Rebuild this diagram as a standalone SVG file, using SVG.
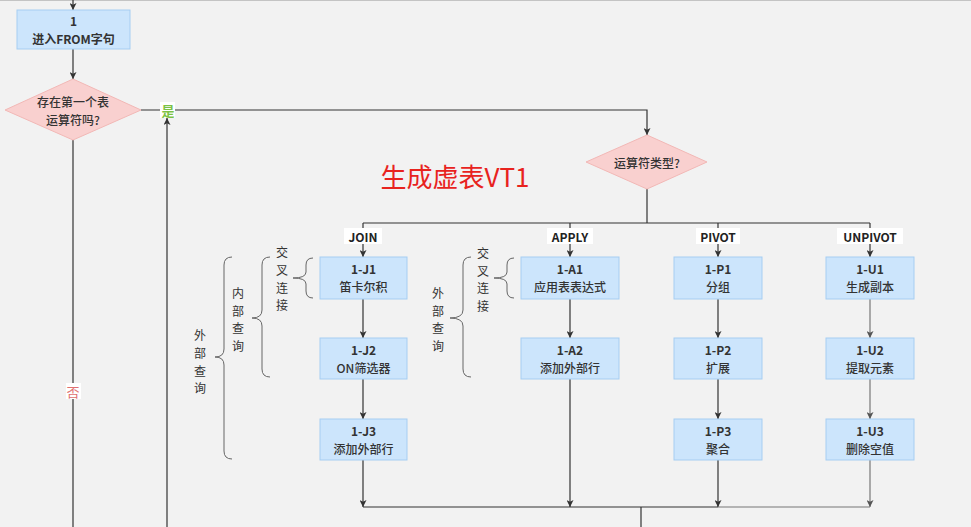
<svg xmlns="http://www.w3.org/2000/svg" width="971" height="527" viewBox="0 0 971 527">
<defs>
<marker id="arr" viewBox="0 0 10 10" refX="10" refY="5" markerWidth="7" markerHeight="7" markerUnits="userSpaceOnUse" orient="auto">
<path d="M0,0 L10,5 L0,10 L2.5,5 Z" fill="#333"/>
</marker>
<marker id="arrg" viewBox="0 0 10 10" refX="10" refY="5" markerWidth="7" markerHeight="7" markerUnits="userSpaceOnUse" orient="auto">
<path d="M0,0 L10,5 L0,10 L2.5,5 Z" fill="#555"/>
</marker>
<style>
text{font-family:"Noto Sans CJK SC","Liberation Sans",sans-serif;}
.box{fill:#cce5fc;stroke:#a6cdf2;stroke-width:1;}
.dia{fill:#f9d0cf;stroke:#f2b8b6;stroke-width:1;}
.t{font-size:12px;fill:#333;text-anchor:middle;dominant-baseline:central;}
.b{font-weight:bold;}
.m{font-weight:500;}
.ln{fill:none;stroke:#333;stroke-width:1.2;}
.lg{fill:none;stroke:#777;stroke-width:1.2;}
.br{fill:none;stroke:#666;stroke-width:1;}
.vt{font-size:12px;fill:#333;text-anchor:middle;dominant-baseline:central;}
.lbl{font-size:12px;font-weight:bold;fill:#222;text-anchor:middle;dominant-baseline:central;}
.bg{fill:#ffffff;}
</style>
</defs>
<rect x="0" y="0" width="971" height="527" fill="#f2f2f2"/>
<line x1="0" y1="0.5" x2="971" y2="0.5" stroke="#c4c4c4" stroke-width="1"/>

<g id="connectors">
<line class="ln" x1="73" y1="0" x2="73" y2="10" marker-end="url(#arr)"/>
<line class="ln" x1="73" y1="49" x2="73" y2="79" marker-end="url(#arr)"/>
<polyline class="ln" points="141,110 647,110 647,135" marker-end="url(#arr)"/>
<line class="ln" x1="167" y1="527" x2="167" y2="118" marker-end="url(#arr)"/>
<line class="ln" x1="73" y1="140" x2="73" y2="527"/>
<line class="ln" x1="647" y1="189" x2="647" y2="223"/>
<line class="ln" x1="363" y1="223" x2="870" y2="223"/>
<line class="ln" x1="363" y1="223" x2="363" y2="257" marker-end="url(#arr)"/>
<line class="ln" x1="570" y1="223" x2="570" y2="257" marker-end="url(#arr)"/>
<line class="ln" x1="718" y1="223" x2="718" y2="257" marker-end="url(#arr)"/>
<line class="ln" x1="870" y1="223" x2="870" y2="257" marker-end="url(#arr)"/>
<line class="ln" x1="363" y1="299" x2="363" y2="338" marker-end="url(#arr)"/>
<line class="ln" x1="363" y1="379" x2="363" y2="419" marker-end="url(#arr)"/>
<line class="ln" x1="570" y1="299" x2="570" y2="338" marker-end="url(#arr)"/>
<line class="ln" x1="718" y1="299" x2="718" y2="338" marker-end="url(#arr)"/>
<line class="ln" x1="718" y1="379" x2="718" y2="419" marker-end="url(#arr)"/>
<line class="lg" x1="870" y1="299" x2="870" y2="338" marker-end="url(#arrg)"/>
<line class="lg" x1="870" y1="379" x2="870" y2="419" marker-end="url(#arrg)"/>
<line class="ln" x1="363" y1="460" x2="363" y2="507" marker-end="url(#arr)"/>
<line class="ln" x1="570" y1="379" x2="570" y2="507" marker-end="url(#arr)"/>
<line class="ln" x1="718" y1="460" x2="718" y2="507" marker-end="url(#arr)"/>
<line class="lg" x1="870" y1="460" x2="870" y2="507" marker-end="url(#arrg)"/>
<line class="ln" x1="363" y1="507" x2="718" y2="507"/>
<line class="lg" x1="718" y1="507" x2="870" y2="507"/>
<line class="ln" x1="641" y1="507" x2="641" y2="527"/>
<rect class="bg" x="160" y="102" width="15" height="16"/>
<text x="168" y="110" font-size="13" font-weight="bold" fill="#7cc244" text-anchor="middle" dominant-baseline="central">是</text>
<rect class="bg" x="66" y="383" width="15" height="16"/>
<text x="73" y="391" font-size="13" fill="#e06f6f" text-anchor="middle" dominant-baseline="central">否</text>
<rect class="bg" x="344" y="228" width="38" height="16"/>
<text class="lbl" x="363" y="236">JOIN</text>
<rect class="bg" x="547" y="228" width="46" height="16"/>
<text class="lbl" x="570" y="236">APPLY</text>
<rect class="bg" x="696" y="228" width="44" height="16"/>
<text class="lbl" x="718" y="236">PIVOT</text>
<rect class="bg" x="837" y="228" width="66" height="16"/>
<text class="lbl" x="870" y="236">UNPIVOT</text>
</g>

<g id="n1">
<rect class="box" x="17" y="10" width="113" height="39"/>
<text class="t b" x="73.5" y="20.5">1<tspan x="73.5" dy="17.5">进入FROM字句</tspan></text>
</g>
<g id="d1">
<polygon class="dia" points="73,79 141,110 73,140 5,110"/>
<text class="t m" x="73" y="101.5">存在第一个表<tspan x="73" dy="17.5">运算符吗?</tspan></text>
</g>
<g id="d2">
<polygon class="dia" points="647,135 707,162 647,189 586,162"/>
<text class="t m" x="647" y="162">运算符类型?</text>
</g>
<g id="title">
<text x="455" y="175" font-size="26" fill="#e8231e" text-anchor="middle" dominant-baseline="central">生成虚表VT1</text>
</g>

<g id="j1"><rect class="box" x="320" y="257" width="87" height="42"/><text class="t b" x="363.5" y="268.5">1-J1<tspan class="m" x="363.5" dy="17.5">笛卡尔积</tspan></text></g>
<g id="j2"><rect class="box" x="320" y="338" width="87" height="41"/><text class="t b" x="363.5" y="349.5">1-J2<tspan class="m" x="363.5" dy="17.5">ON筛选器</tspan></text></g>
<g id="j3"><rect class="box" x="320" y="419" width="87" height="41"/><text class="t b" x="363.5" y="430.5">1-J3<tspan class="m" x="363.5" dy="17.5">添加外部行</tspan></text></g>

<g id="a1"><rect class="box" x="521" y="257" width="98" height="42"/><text class="t b" x="570" y="268.5">1-A1<tspan class="m" x="570" dy="17.5">应用表表达式</tspan></text></g>
<g id="a2"><rect class="box" x="521" y="338" width="98" height="41"/><text class="t b" x="570" y="349.5">1-A2<tspan class="m" x="570" dy="17.5">添加外部行</tspan></text></g>

<g id="p1"><rect class="box" x="674" y="257" width="88" height="42"/><text class="t b" x="718" y="268.5">1-P1<tspan class="m" x="718" dy="17.5">分组</tspan></text></g>
<g id="p2"><rect class="box" x="674" y="338" width="88" height="41"/><text class="t b" x="718" y="349.5">1-P2<tspan class="m" x="718" dy="17.5">扩展</tspan></text></g>
<g id="p3"><rect class="box" x="674" y="419" width="88" height="41"/><text class="t b" x="718" y="430.5">1-P3<tspan class="m" x="718" dy="17.5">聚合</tspan></text></g>

<g id="u1"><rect class="box" x="826" y="257" width="88" height="42"/><text class="t b" x="870" y="268.5">1-U1<tspan class="m" x="870" dy="17.5">生成副本</tspan></text></g>
<g id="u2"><rect class="box" x="826" y="338" width="88" height="41"/><text class="t b" x="870" y="349.5">1-U2<tspan class="m" x="870" dy="17.5">提取元素</tspan></text></g>
<g id="u3"><rect class="box" x="826" y="419" width="88" height="41"/><text class="t b" x="870" y="430.5">1-U3<tspan class="m" x="870" dy="17.5">删除空值</tspan></text></g>

<g id="brace-j-outer">
<path class="br" d="M232,257 Q224,257 224,265 L224,349 Q224,357 215,357 Q224,357 224,365 L224,451 Q224,459 232,459"/>
<text class="vt" x="200" y="334.5">外<tspan x="200" dy="17.5">部</tspan><tspan x="200" dy="17.5">查</tspan><tspan x="200" dy="17.5">询</tspan></text>
</g>
<g id="brace-j-inner">
<path class="br" d="M270,257 Q262,257 262,265 L262,310 Q262,318 252,318 Q262,318 262,326 L262,369 Q262,377 270,377"/>
<text class="vt" x="238" y="292">内<tspan x="238" dy="17.5">部</tspan><tspan x="238" dy="17.5">查</tspan><tspan x="238" dy="17.5">询</tspan></text>
</g>
<g id="brace-j-cross">
<path class="br" d="M313,258 Q306,258 306,265 L306,272 Q306,278 293,278 Q306,278 306,284 L306,291 Q306,298 313,298"/>
<text class="vt" x="282" y="251.5">交<tspan x="282" dy="17.5">叉</tspan><tspan x="282" dy="17.5">连</tspan><tspan x="282" dy="17.5">接</tspan></text>
</g>
<g id="brace-a-cross">
<path class="br" d="M514,258 Q507,258 507,265 L507,272 Q507,278 494,278 Q507,278 507,284 L507,291 Q507,298 514,298"/>
<text class="vt" x="483" y="252">交<tspan x="483" dy="17.5">叉</tspan><tspan x="483" dy="17.5">连</tspan><tspan x="483" dy="17.5">接</tspan></text>
</g>
<g id="brace-a-outer">
<path class="br" d="M471,257 Q463,257 463,265 L463,310 Q463,318 450,318 Q463,318 463,326 L463,369 Q463,377 471,377"/>
<text class="vt" x="438" y="292">外<tspan x="438" dy="17.5">部</tspan><tspan x="438" dy="17.5">查</tspan><tspan x="438" dy="17.5">询</tspan></text>
</g>
</svg>
